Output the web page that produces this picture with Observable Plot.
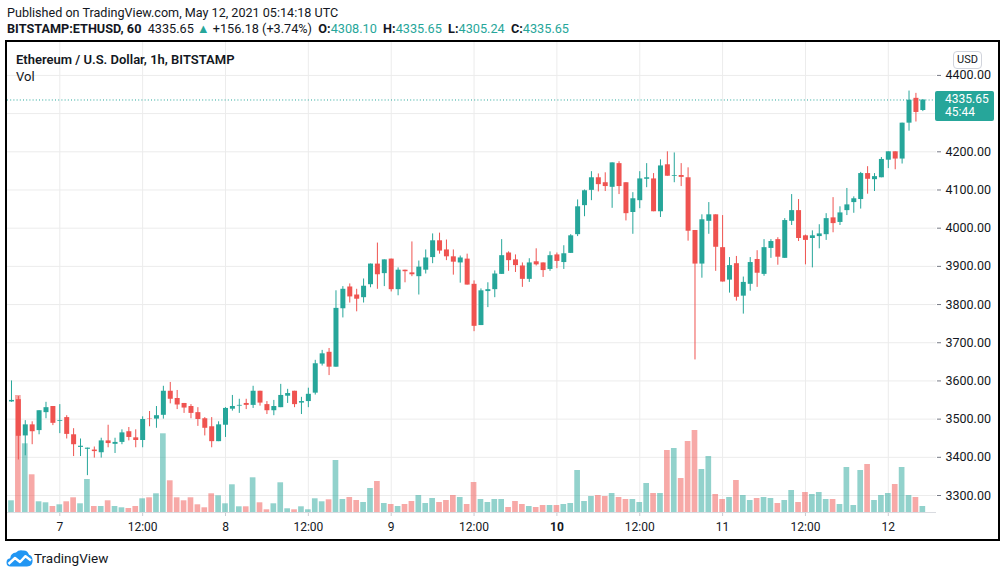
<!DOCTYPE html>
<html><head><meta charset="utf-8">
<script src="https://cdn.jsdelivr.net/npm/d3@7"></script>
<script src="https://cdn.jsdelivr.net/npm/@observablehq/plot@0.6"></script>
<style>
html,body{margin:0;padding:0;background:#fff;}
body{width:1006px;height:577px;position:relative;overflow:hidden;font-family:Roboto,"Liberation Sans",sans-serif;color:#131722;}
.abs{position:absolute;}
.txt{white-space:pre;}
.layer{position:absolute;left:0;top:40px;width:1006px;height:500px;}
.layer svg{display:block;background:transparent;overflow:visible;}
b{font-weight:700;}
.tl{color:#26a69a;}
</style></head><body>
<div class="abs txt" id="pub" style="left:7px;top:5px;font-size:12.6px;"></div>
<div class="abs txt" id="sym" style="left:7px;top:21px;font-size:12.7px;"></div>
<div id="gridLayer" class="layer"></div>
<div id="volLayer" class="layer"></div>
<div id="priceLayer" class="layer"></div>
<div class="abs txt" id="title" style="left:16px;top:52px;font-size:13px;font-weight:600;"></div>
<div class="abs txt" id="volTitle" style="left:16px;top:69px;font-size:13px;"></div>
<div class="abs" id="usd" style="left:953px;top:51px;width:27px;height:16px;border:1px solid #d1d4dc;border-radius:4px;font-size:11px;line-height:16px;text-align:center;"></div>
<div class="abs" id="lastBox" style="left:935px;width:59px;height:30px;background:#26a69a;border-radius:2px;color:#fff;font-size:12px;line-height:13px;"></div>
<div class="abs" style="left:5px;top:40px;width:995px;height:501px;border:2px solid #000;box-sizing:border-box;pointer-events:none;"></div>
<svg class="abs" style="left:6px;top:549px;" width="27" height="18" viewBox="0 0 27 18"><path d="M4.5 17.5 Q0.5 17.5 0.5 13.5 Q0.5 9.8 4.2 9.3 Q4.8 4 10 3.6 Q12.8 0.5 17 1.6 Q21.5 1.2 23 5.8 Q26.6 7 26.6 11.8 Q26.6 17.5 21 17.5 Z" fill="#2196f3"/><polyline points="2.5,15 9,9 14,13 19.5,7.2 25,11.5" stroke="#fff" stroke-width="2.4" fill="none" stroke-linejoin="round"/></svg>
<div class="abs txt" id="brand" style="left:34px;top:550px;font-size:13.5px;"></div>
<script>
// ---- data (BITSTAMP ETH/USD, 1h candles, from May 6 2021 17:00 UTC) ----
const firstCandleUTC = "2021-05-06T17:00:00Z";
const openP = [3545,3551,3456,3485,3470,3517,3533,3494,3504,3459,3426,3421,3419,3412,3443,3434,3439,3467,3451,3444,3500,3500,3510,3573,3554,3541,3533,3517,3501,3480,3441,3484,3526,3534,3541,3536,3573,3538,3522,3530,3560,3573,3542,3546,3568,3644,3675,3636,3789,3846,3825,3818,3852,3906,3881,3919,3839,3890,3883,3873,3890,3923,3967,3943,3925,3909,3919,3853,3745,3834,3839,3879,3935,3917,3901,3866,3912,3909,3892,3930,3910,3934,3983,4059,4099,4132,4119,4107,4169,4119,4041,4072,4128,4129,4043,4166,4136,4138,4132,3994,3906,4018,4035,3949,3864,3907,3822,3853,3918,3879,3947,3970,3921,4018,4046,3980,3973,3978,3983,4027,4015,4046,4067,4075,4143,4127,4132,4178,4200,4181,4275,4340,4308.10];
const highP = [3600,3559,3496,3493,3522,3544,3533,3538,3509,3475,3448,3424,3427,3450,3484,3450,3472,3478,3472,3506,3520,3533,3586,3596,3575,3541,3538,3530,3504,3504,3493,3530,3562,3552,3552,3586,3573,3546,3549,3591,3578,3573,3557,3581,3654,3680,3685,3836,3847,3854,3840,3867,3906,3961,3917,3919,3896,3890,3964,3914,3943,3985,3987,3969,3943,3927,3932,3862,3841,3857,3888,3970,3938,3930,3909,3920,3946,3909,3938,3935,3954,3983,4074,4100,4148,4142,4145,4171,4174,4119,4093,4148,4169,4143,4179,4200,4197,4169,4158,3994,4035,4067,4035,4033,3923,3926,3872,3923,3941,3970,3970,3975,4025,4088,4075,3982,3993,4009,4038,4080,4056,4104,4082,4146,4161,4143,4185,4200,4200,4275,4359,4353,4335.65];
const lowP = [3544,3393,3404,3433,3459,3501,3483,3462,3448,3402,3402,3352,3398,3398,3425,3410,3433,3443,3425,3425,3480,3476,3500,3540,3525,3515,3501,3481,3456,3425,3441,3452,3521,3515,3525,3528,3534,3512,3509,3530,3541,3530,3512,3530,3563,3639,3614,3636,3765,3804,3781,3804,3844,3840,3847,3833,3823,3857,3873,3825,3880,3907,3932,3915,3877,3856,3851,3729,3745,3792,3818,3879,3887,3884,3845,3858,3901,3871,3887,3894,3892,3934,3978,4030,4072,4095,4096,4052,4088,4019,3984,4051,4106,4043,4028,4136,4119,4109,3966,3655,3869,3984,3887,3859,3830,3809,3775,3835,3845,3874,3921,3903,3921,4007,3965,3904,3896,3946,3968,3988,4007,4033,4039,4050,4089,4096,4132,4156,4153,4168,4254,4278,4305.24];
const closeP = [3549,3455,3485,3467,3522,3530,3489,3496,3460,3433,3429,3424,3415,3443,3436,3439,3464,3452,3444,3499,3499,3509,3573,3552,3537,3529,3515,3499,3476,3441,3485,3528,3533,3536,3536,3573,3542,3522,3533,3562,3567,3538,3546,3565,3645,3671,3636,3790,3840,3820,3814,3848,3906,3878,3917,3839,3890,3886,3878,3898,3922,3967,3940,3925,3911,3922,3851,3743,3836,3839,3880,3928,3915,3902,3866,3909,3904,3889,3928,3913,3933,3980,4056,4098,4132,4114,4109,4171,4109,4038,4077,4129,4132,4043,4163,4136,4138,4133,3992,3906,4022,4035,3950,3859,3902,3819,3858,3910,3882,3949,3965,3924,4020,4046,3973,3968,3980,3985,4025,4012,4040,4061,4077,4143,4128,4135,4180,4200,4181,4275,4335,4303,4335.65];
const volume = [1170,11700,6870,3770,1070,970,600,770,1070,1470,870,3300,600,600,1170,600,470,400,600,1370,1470,1870,7870,3170,1470,1170,1470,770,470,1870,1670,870,2770,570,570,3470,970,270,870,2970,370,270,570,270,1370,1070,1270,5200,1300,1500,1200,1000,2400,3100,900,800,600,800,1100,1700,900,1400,1000,1200,1700,1500,800,3000,1300,1000,1300,1300,500,1100,800,600,500,700,700,700,800,900,4200,1100,1600,1700,1600,1900,1500,1300,1300,1000,2900,1900,1900,6200,6400,3400,7100,8200,4300,5600,1800,1300,1500,3200,1700,1200,1400,1500,1400,900,1200,2200,1000,2000,1800,2000,1300,1300,800,4500,700,4200,4800,1200,1700,1900,2800,4500,1700,1500,600];
const priceGridTicks = [3300,3400,3500,3600,3700,3800,3900,4000,4100,4200,4300,4400];
const priceLabelTicks = [3300,3400,3500,3600,3700,3800,3900,4000,4100,4200,4400];
const timeTicks = ["2021-05-07T00:00Z","2021-05-07T12:00Z","2021-05-08T00:00Z","2021-05-08T12:00Z","2021-05-09T00:00Z","2021-05-09T12:00Z","2021-05-10T00:00Z","2021-05-10T12:00Z","2021-05-11T00:00Z","2021-05-11T12:00Z","2021-05-12T00:00Z"];
const timeTickLabels = ["7","12:00","8","12:00","9","12:00","10","12:00","11","12:00","12"];
const boldTickLabels = ["10"];
const publishedText = "Published on TradingView.com, May 12, 2021 05:14:18 UTC";
const symbolText = "BITSTAMP:ETHUSD, 60";
const changeText = "+156.18 (+3.74%)";
const titleText = "Ethereum / U.S. Dollar, 1h, BITSTAMP";
const volText = "Vol";
const currencyText = "USD";
const countdownText = "45:44";
const brandText = "TradingView";

// ---- build ----
const UP = "#26a69a", DOWN = "#ef5350";
const UPV = "rgba(38,166,154,0.5)", DOWNV = "rgba(239,83,80,0.5)";
const HOUR = 3600e3;
const t0 = Date.parse(firstCandleUTC);
const candles = openP.map((o, i) => ({
  t: new Date(t0 + i * HOUR), o, h: highP[i], l: lowP[i], c: closeP[i], v: volume[i]
}));
const tickDates = timeTicks.map(s => new Date(s));
const labelOf = d => timeTickLabels[tickDates.findIndex(t => +t === +d)];
const boldDates = tickDates.filter(d => boldTickLabels.includes(labelOf(d)));
const normalDates = tickDates.filter(d => !boldTickLabels.includes(labelOf(d)));
const day7 = Date.parse("2021-05-07T00:00Z");
const xDomain = [new Date(day7 - 7.575 * HOUR), new Date(day7 + 126.98 * HOUR)];
const yDomain = [3255.5, 4486.2];
const common = {
  width: 1006, height: 500, marginLeft: 7, marginRight: 70, marginTop: 2, marginBottom: 28,
  style: {background: "transparent", fontFamily: "Roboto, 'Liberation Sans', sans-serif", fontSize: "12px", color: "#131722", overflow: "visible"}
};
const col = d => d.c >= d.o ? UP : DOWN;
const colV = d => d.c >= d.o ? UPV : DOWNV;

const gridPlot = Plot.plot({
  ...common,
  x: {type: "utc", domain: xDomain},
  y: {domain: yDomain},
  marks: [
    Plot.gridX(tickDates, {stroke: "#ececec", strokeOpacity: 1}),
    Plot.gridY(priceGridTicks, {stroke: "#ececec", strokeOpacity: 1}),
    Plot.axisX(normalDates, {tickSize: 4, tickPadding: 6, stroke: "#c9cbd1", color: "#131722", tickFormat: labelOf, label: null, fontSize: 12}),
    Plot.axisX(boldDates, {tickSize: 4, tickPadding: 6, stroke: "#c9cbd1", color: "#131722", tickFormat: labelOf, label: null, fontWeight: "bold", fontSize: 12}),
    Plot.axisY(priceLabelTicks, {anchor: "right", tickSize: 4, tickPadding: 5, stroke: "#787b86", color: "#131722", tickFormat: d => d.toFixed(2), label: null, textAnchor: "start", fontSize: 12.5})
  ]
});
document.getElementById("gridLayer").append(gridPlot);

const volPlot = Plot.plot({
  ...common,
  x: {type: "utc", domain: xDomain, axis: null},
  y: {domain: [0, 47000], axis: null},
  marks: [
    Plot.rectY(candles, {x1: d => new Date(+d.t - 0.41 * HOUR), x2: d => new Date(+d.t + 0.41 * HOUR), y1: 0, y2: "v", fill: colV}),
    Plot.ruleY([0], {stroke: "#d9dbe0"})
  ]
});
document.getElementById("volLayer").append(volPlot);

const last = candles[candles.length - 1];
const pricePlot = Plot.plot({
  ...common,
  x: {type: "utc", domain: xDomain, axis: null},
  y: {domain: yDomain, axis: null},
  marks: [
    Plot.ruleY([last.c], {stroke: UP, strokeDasharray: "1,2.2", strokeWidth: 1}),
    Plot.ruleX(candles, {x: "t", y1: "l", y2: "h", stroke: col, strokeWidth: 1}),
    Plot.ruleX(candles, {x: "t", y1: "o", y2: "c", stroke: col, strokeWidth: 5})
  ]
});
document.getElementById("priceLayer").append(pricePlot);

// texts
document.getElementById("pub").textContent = publishedText;
document.getElementById("sym").innerHTML =
  `<b>${symbolText}</b>  ${last.c.toFixed(2)} <span class="tl">▲</span> ${changeText}  <b>O:</b><span class="tl">${last.o.toFixed(2)}</span>  <b>H:</b><span class="tl">${last.h.toFixed(2)}</span>  <b>L:</b><span class="tl">${last.l.toFixed(2)}</span>  <b>C:</b><span class="tl">${last.c.toFixed(2)}</span>`;
document.getElementById("title").textContent = titleText;
document.getElementById("volTitle").textContent = volText;
document.getElementById("usd").textContent = currencyText;
document.getElementById("brand").textContent = brandText;
const yScale = pricePlot.scale("y");
const box = document.getElementById("lastBox");
box.style.top = (40 + yScale.apply(last.c) - 8) + "px";
box.innerHTML = `<div style="position:absolute;left:10px;top:2px">${last.c.toFixed(2)}</div><div style="position:absolute;left:10px;top:15px">${countdownText}</div>`;
</script>
</body></html>
